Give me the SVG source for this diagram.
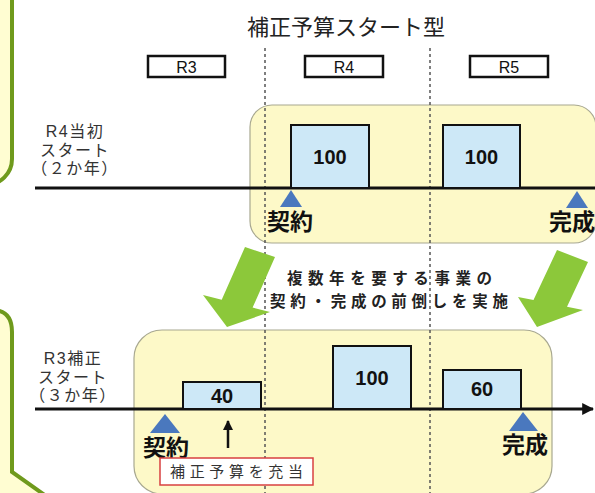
<svg xmlns="http://www.w3.org/2000/svg" width="595" height="493" viewBox="0 0 595 493">
<style>
.jp{font-family:"Noto Sans CJK JP","Liberation Sans",sans-serif;}
.lbl{font-family:"Liberation Sans","Noto Sans CJK JP",sans-serif;font-size:16px;fill:#333;text-anchor:middle;letter-spacing:1.5px;}
.num{font-family:"Liberation Sans",sans-serif;font-weight:bold;font-size:20px;fill:#111;text-anchor:middle;}
.yr{fill:#fff;stroke:#111;stroke-width:2.5;}
.yrt{font-family:"Liberation Sans",sans-serif;font-size:16px;fill:#111;text-anchor:middle;}
.band{fill:#fdf9c8;stroke:#a8a890;stroke-width:1.2;}
.box{fill:#cde8f7;stroke:#111;stroke-width:2;}
.tri{fill:#4a78be;}
.big{font-family:"Noto Sans CJK JP",sans-serif;font-weight:bold;font-size:23px;fill:#111;text-anchor:middle;}
.dash{stroke:#555;stroke-width:1.5;stroke-dasharray:3,3;fill:none;}
.tl{stroke:#111;stroke-width:3;fill:none;}
.garrow{fill:#8cc83a;}
.side{fill:#fffdd2;stroke:#6f9a1c;stroke-width:4;}
</style>
<defs>
<marker id="ah" viewBox="0 0 10 10" refX="9" refY="5" markerWidth="4" markerHeight="4" orient="auto" markerUnits="strokeWidth">
<path d="M0,0 L10,5 L0,10 z" fill="#111"/>
</marker>
</defs>
<rect width="595" height="493" fill="#fff"/>

<g id="side-top">
<rect class="side" x="-40" y="-30" width="52" height="215" rx="26"/>
</g>
<g id="side-bottom">
<path class="side" d="M-10,310 L-8,310 Q12,310 12,332 L12,472 L46,496 L-10,496 Z"/>
</g>

<g id="title">
<text class="jp" x="346" y="35" font-size="22" fill="#222" text-anchor="middle">補正予算スタート型</text>
</g>

<g id="year-R3"><rect class="yr" x="148" y="56" width="77" height="21"/><text class="yrt" x="186.5" y="72.5">R3</text></g>
<g id="year-R4"><rect class="yr" x="305" y="56" width="78" height="21"/><text class="yrt" x="344" y="72.5">R4</text></g>
<g id="year-R5"><rect class="yr" x="470" y="56" width="78" height="21"/><text class="yrt" x="509" y="72.5">R5</text></g>

<g id="band-top"><rect class="band" x="250" y="105" width="346" height="138" rx="22"/></g>
<g id="band-bottom"><rect class="band" x="134" y="330" width="418" height="164" rx="28"/></g>

<g id="connectors">
<line class="dash" x1="265" y1="48" x2="265" y2="493"/>
<line class="dash" x1="430" y1="48" x2="430" y2="493"/>
<line class="tl" x1="35" y1="188" x2="595" y2="188"/>
<line class="tl" x1="35" y1="409" x2="593" y2="409" marker-end="url(#ah)"/>
<line x1="228" y1="448" x2="228" y2="421" stroke="#111" stroke-width="2.5" marker-end="url(#ah)"/>
<polygon class="garrow" points="245,247 275,257 252.6,307.6 270,312 227,327 203,295 221.7,299.7"/>
<polygon class="garrow" points="557,250 588,262 567,306.8 583,310 537,327 518,297 533.5,300.1"/>
</g>

<g id="label-top">
<text class="lbl" x="75" y="137">R4当初</text>
<text class="lbl" x="75" y="156">スタート</text>
<text class="lbl" x="75" y="174">（２か年）</text>
</g>
<g id="label-bottom">
<text class="lbl" x="73" y="364">R3補正</text>
<text class="lbl" x="73" y="383">スタート</text>
<text class="lbl" x="73" y="401">（３か年）</text>
</g>

<g id="top-box1"><rect class="box" x="291" y="125" width="78" height="63"/><text class="num" x="330" y="164">100</text></g>
<g id="top-box2"><rect class="box" x="443" y="125" width="77" height="63"/><text class="num" x="481.5" y="164">100</text></g>

<g id="top-contract"><polygon class="tri" points="291,190 280,207 302,207"/><text class="big" x="290" y="230">契約</text></g>
<g id="top-complete"><polygon class="tri" points="577,191 566,208 588,208"/><text class="big" x="572" y="230" font-size="22">完成</text></g>

<g id="note">
<text class="jp" x="287" y="284" font-size="15.5" font-weight="bold" fill="#222" textLength="205" lengthAdjust="spacing">複数年を要する事業の</text>
<text class="jp" x="270" y="307" font-size="15.5" font-weight="bold" fill="#222" textLength="238" lengthAdjust="spacing">契約・完成の前倒しを実施</text>
</g>

<g id="bot-box40"><rect class="box" x="183" y="382" width="78" height="27"/><text class="num" x="222" y="403">40</text></g>
<g id="bot-box100"><rect class="box" x="333" y="346" width="78" height="63"/><text class="num" x="372" y="385">100</text></g>
<g id="bot-box60"><rect class="box" x="443" y="370" width="78" height="39"/><text class="num" x="482" y="396">60</text></g>

<g id="bot-contract"><polygon class="tri" points="165,414 150,433 180,433"/><text class="big" x="166" y="456">契約</text></g>
<g id="bot-complete"><polygon class="tri" points="523,412 509,431 538,431"/><text class="big" x="525" y="453">完成</text></g>

<g id="budget-note">
<rect x="160" y="458" width="153" height="27" fill="#fff" stroke="#d84040" stroke-width="1.5"/>
<text class="jp" x="170" y="477" font-size="15" fill="#333" textLength="133" lengthAdjust="spacing">補正予算を充当</text>
</g>
</svg>
